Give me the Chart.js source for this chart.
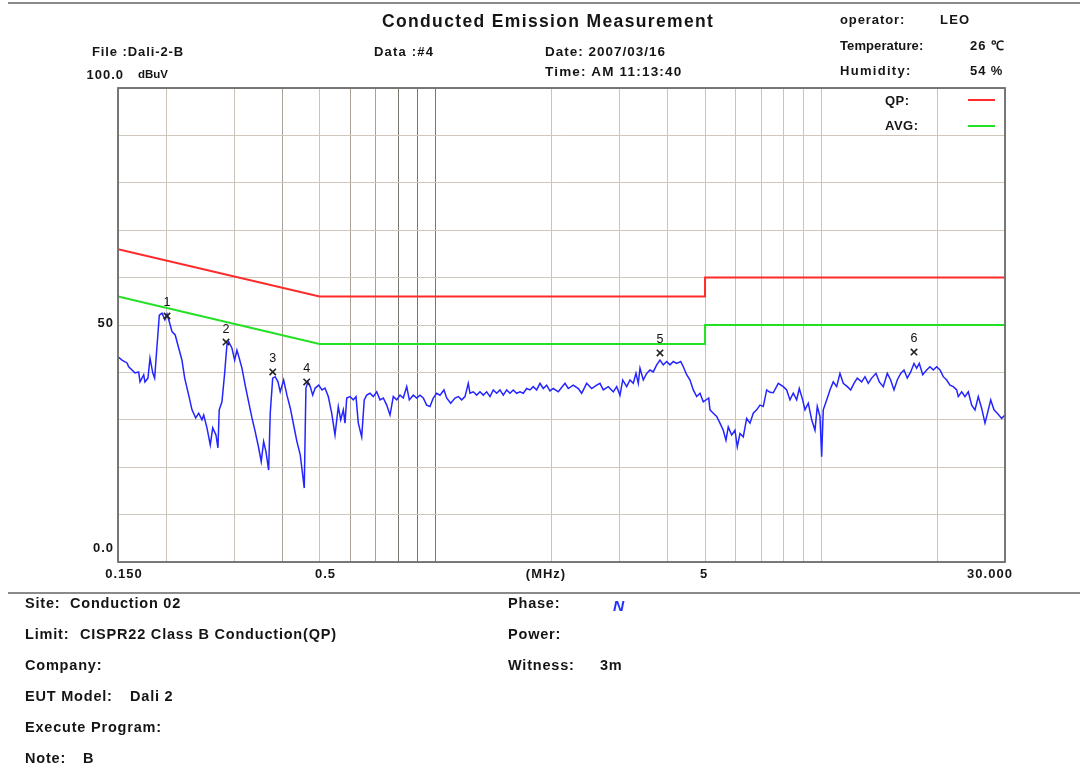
<!DOCTYPE html>
<html>
<head>
<meta charset="utf-8">
<script src="https://cdn.jsdelivr.net/npm/chart.js@4/dist/chart.umd.min.js"></script>
<style>
  html, body { margin: 0; padding: 0; background: #fff; }
  #page { position: relative; width: 1080px; height: 769px; overflow: hidden; background: #fff; }
  #plot { position: absolute; left: 0; top: 0; }
  .t { position: absolute; font-family: 'Liberation Sans', Arial, sans-serif; font-weight: bold;
       font-size: 13px; line-height: 1; white-space: pre; color: #151515; letter-spacing: 0.9px; }
  .f { font-size: 14.5px; letter-spacing: 0.8px; }
  .rule { position: absolute; left: 8px; right: 0; height: 2px; background: #8a8a8a; }
  .sw { position: absolute; height: 2px; width: 27px; }
</style>
</head>
<body>
<div id="page">
  <canvas id="plot" width="1080" height="769"></canvas>

  <div class="rule" style="top:2px"></div>
  <div class="rule" style="top:592px"></div>

  <div class="t" style="left:382px; top:13px; font-size:17.5px; letter-spacing:1.35px;">Conducted Emission Measurement</div>
  <div class="t" style="left:840px; top:13px;">operator:</div>
  <div class="t" style="left:940px; top:13px; letter-spacing:1.2px;">LEO</div>
  <div class="t" style="left:840px; top:39px; letter-spacing:0.1px;">Temperature:</div>
  <div class="t" style="left:970px; top:39px;">26 ℃</div>
  <div class="t" style="left:840px; top:64px; letter-spacing:1.3px;">Humidity:</div>
  <div class="t" style="left:970px; top:64px;">54 %</div>
  <div class="t" style="left:92px; top:45px;">File :Dali-2-B</div>
  <div class="t" style="left:374px; top:45px; letter-spacing:1.2px;">Data :#4</div>
  <div class="t" style="left:545px; top:45px; font-size:13.5px; letter-spacing:1px;">Date: 2007/03/16</div>
  <div class="t" style="left:545px; top:65px; font-size:13.5px; letter-spacing:1.2px;">Time: AM 11:13:40</div>

  <div class="t" style="left:885px; top:94px; letter-spacing:0.5px;">QP:</div>
  <div class="sw" style="left:968px; top:99px; background:#ff2a2a;"></div>
  <div class="t" style="left:885px; top:119px; letter-spacing:0.5px;">AVG:</div>
  <div class="sw" style="left:968px; top:125px; background:#22e022;"></div>

  <div class="t f" style="left:25px; top:596px;">Site:</div>
  <div class="t f" style="left:70px; top:596px;">Conduction 02</div>
  <div class="t f" style="left:25px; top:627px;">Limit:</div>
  <div class="t f" style="left:80px; top:627px;">CISPR22 Class B Conduction(QP)</div>
  <div class="t f" style="left:25px; top:658px;">Company:</div>
  <div class="t f" style="left:25px; top:689px;">EUT Model:</div>
  <div class="t f" style="left:130px; top:689px;">Dali 2</div>
  <div class="t f" style="left:25px; top:720px;">Execute Program:</div>
  <div class="t f" style="left:25px; top:751px;">Note:</div>
  <div class="t f" style="left:83px; top:751px;">B</div>
  <div class="t f" style="left:508px; top:596px;">Phase:</div>
  <div class="t f" style="left:613px; top:598px; font-size:15.5px; color:#1f2fff; font-style:italic;">N</div>
  <div class="t f" style="left:508px; top:627px;">Power:</div>
  <div class="t f" style="left:508px; top:658px;">Witness:</div>
  <div class="t f" style="left:600px; top:658px;">3m</div>
</div>

<script>
// Measured spectrum (peak detector), frequency in MHz and level in dBuV
const freqMHz = [
  0.150, 0.1536, 0.1583, 0.1599, 0.1631, 0.1660, 0.1697, 0.1711, 0.1749, 0.1762,
  0.1794, 0.1816, 0.1846, 0.1867, 0.1893, 0.1920, 0.1951, 0.1985, 0.2010, 0.2038,
  0.2071, 0.2111, 0.2156, 0.2198, 0.2234, 0.2288, 0.2334, 0.2386, 0.2429, 0.2477,
  0.2503, 0.2552, 0.2603, 0.2641, 0.2693, 0.2725, 0.2746, 0.2791, 0.2837, 0.2875,
  0.2905, 0.2963, 0.3011, 0.3052, 0.3095, 0.3145, 0.3206, 0.3273, 0.3339, 0.3404,
  0.3475, 0.3529, 0.3580, 0.3630, 0.3689, 0.3724, 0.3779, 0.3836, 0.3900, 0.3953,
  0.4034, 0.4115, 0.4197, 0.4283, 0.4368, 0.4455, 0.4520, 0.4563, 0.4609, 0.4665,
  0.4729, 0.4799, 0.4871, 0.4975, 0.5073, 0.5165, 0.5268, 0.5376, 0.5483, 0.5592,
  0.5673, 0.5762, 0.5821, 0.5880, 0.5997, 0.6116, 0.6216, 0.6302, 0.6431, 0.6530,
  0.6626, 0.6758, 0.6892, 0.7034, 0.7174, 0.7317, 0.7467, 0.7616, 0.7767, 0.7927,
  0.8085, 0.8245, 0.8415, 0.8547, 0.8753, 0.8933, 0.9109, 0.9290, 0.9481, 0.9670,
  0.9862, 1.0064, 1.0265, 1.0513, 1.0684, 1.0943, 1.1227, 1.1451, 1.1685, 1.1919,
  1.2156, 1.2280, 1.2524, 1.2781, 1.3036, 1.3295, 1.3568, 1.3839, 1.4113, 1.4403,
  1.4691, 1.4982, 1.5290, 1.5595, 1.5904, 1.6231, 1.6553, 1.6881, 1.7228, 1.7572,
  1.7920, 1.8288, 1.8654, 1.9024, 1.9414, 1.9801, 2.0194, 2.0808, 2.1658, 2.2090,
  2.2758, 2.3449, 2.3929, 2.4655, 2.5402, 2.6172, 2.6695, 2.7225, 2.8052, 2.8901,
  2.9494, 3.0084, 3.0583, 3.1311, 3.1936, 3.2570, 3.3101, 3.3560, 3.3903, 3.4575,
  3.5286, 3.5989, 3.6704, 3.7457, 3.8205, 3.8963, 3.9763, 4.0557, 4.1361, 4.2211,
  4.3235, 4.3908, 4.4809, 4.5704, 4.6611, 4.7568, 4.8517, 4.9480, 5.1106, 5.1504,
  5.2526, 5.3605, 5.4665, 5.5750, 5.6659, 5.7444, 5.8620, 5.9789, 6.0615, 6.1603,
  6.2825, 6.4115, 6.5395, 6.6692, 6.8062, 6.9421, 7.0798, 7.2252, 7.3694, 7.5157,
  7.7440, 7.9782, 8.1421, 8.3046, 8.4694, 8.6434, 8.7790, 8.9594, 9.0830, 9.2641,
  9.4536, 9.6422, 9.7754, 9.934, 10.035, 10.131, 10.339, 10.545, 10.754, 10.975,
  11.195, 11.417, 11.696, 11.934, 12.171, 12.414, 12.744, 12.998, 13.257, 13.528,
  13.880, 14.158, 14.499, 14.850, 15.155, 15.456, 15.763, 16.088, 16.407, 16.734,
  17.079, 17.418, 17.701, 17.979, 18.348, 18.791, 19.166, 19.546, 19.947, 20.346,
  20.749, 21.176, 21.598, 22.026, 22.478, 22.696, 23.160, 23.622, 24.093, 24.586,
  25.077, 25.576, 26.099, 26.620, 27.151, 27.544, 28.091, 28.650, 29.412, 30.000
];
const levelDbuV = [
  43.3, 42.6, 42.0, 41.2, 40.5, 39.9, 40.1, 38.0, 39.5, 38.0,
  38.8, 43.0, 39.9, 38.8, 45.4, 52.1, 52.5, 51.1, 52.3, 50.7,
  48.6, 47.9, 45.1, 42.6, 38.8, 35.2, 32.1, 30.4, 31.4, 30.0,
  31.0, 28.3, 24.7, 28.3, 26.8, 24.1, 32.1, 33.8, 39.9, 45.8,
  46.5, 45.1, 42.6, 44.7, 43.0, 40.9, 37.3, 33.8, 30.4, 27.5,
  24.1, 21.2, 25.4, 23.3, 19.4, 31.4, 38.8, 39.1, 38.0, 35.9,
  38.4, 35.2, 32.5, 28.9, 25.4, 22.6, 18.4, 15.6, 36.7, 38.0,
  37.0, 35.2, 36.7, 37.3, 36.3, 36.7, 34.9, 31.4, 26.8, 32.8,
  30.0, 32.1, 29.3, 34.6, 34.9, 34.2, 34.9, 29.3, 26.4, 34.2,
  35.2, 35.6, 34.9, 35.9, 34.2, 34.6, 33.1, 31.0, 34.9, 34.2,
  35.2, 34.6, 37.0, 34.2, 35.2, 34.6, 35.2, 34.6, 33.1, 32.8,
  34.6, 35.6, 35.2, 36.3, 34.6, 33.5, 34.6, 34.9, 34.2, 34.9,
  37.7, 35.6, 35.9, 35.2, 35.9, 35.2, 35.9, 34.9, 36.3, 35.6,
  36.3, 35.2, 36.3, 35.6, 36.3, 35.6, 35.9, 35.6, 36.6, 36.3,
  37.0, 36.3, 37.7, 36.6, 37.3, 36.1, 36.6, 35.9, 37.7, 36.6,
  37.3, 36.6, 35.6, 37.7, 36.6, 37.3, 37.7, 36.3, 37.0, 35.9,
  37.0, 35.2, 38.4, 37.0, 38.4, 37.7, 39.8, 37.7, 40.9, 38.4,
  39.8, 40.5, 40.1, 41.6, 42.6, 41.6, 42.3, 41.6, 42.3, 41.9,
  42.3, 41.2, 39.5, 38.4, 36.3, 34.9, 35.6, 33.8, 34.6, 32.1,
  31.4, 30.7, 29.3, 27.8, 25.7, 28.5, 26.8, 27.8, 24.3, 27.1,
  26.4, 30.3, 29.3, 31.4, 32.1, 33.1, 32.8, 36.3, 35.8, 35.7,
  37.7, 37.0, 36.3, 34.2, 35.6, 34.2, 36.6, 34.2, 32.1, 33.5,
  30.0, 27.8, 32.8, 30.7, 22.2, 32.1, 34.2, 36.3, 38.0, 37.0,
  39.8, 37.7, 37.0, 36.3, 37.7, 38.8, 38.0, 39.1, 37.7, 38.8,
  39.8, 38.0, 37.0, 39.8, 38.4, 36.3, 38.4, 39.8, 40.5, 38.8,
  40.1, 41.9, 40.9, 41.9, 39.5, 40.5, 41.2, 40.5, 41.2, 40.5,
  39.1, 38.4, 37.3, 37.0, 36.3, 34.9, 35.9, 34.9, 35.9, 33.1,
  32.1, 34.9, 32.4, 29.3, 32.1, 34.2, 32.1, 31.4, 30.3, 31.0
];

// CISPR 22 Class B conducted limits
const limitFreqMHz = [0.15, 0.5, 5, 5, 30];
const qpLimitDbuV  = [66, 56, 56, 60, 60];
const avgLimitDbuV = [56, 46, 46, 50, 50];

// Peak markers
const markerNames    = ['1', '2', '3', '4', '5', '6'];
const markerFreqMHz  = [0.201, 0.286, 0.378, 0.463, 3.82, 17.42];
const markerLevel    = [51.9, 46.4, 40.1, 38.0, 44.1, 44.3];

// Frequency grid and labelled axis values
const gridFreqMHz = [0.15, 0.2, 0.3, 0.4, 0.5, 0.6, 0.7, 0.8, 0.9, 1,
                     2, 3, 4, 5, 6, 7, 8, 9, 10, 20, 30];
const darkGridFreqMHz = [0.8, 0.9, 1];
const midGridFreqMHz = [0.4, 0.6, 0.7];
const xTickValues = [0.15, 0.5, 5, 30];
const xTickLabels = ['0.150', '0.5', '5', '30.000'];
const yTickValues = [100, 50, 0];
const yTickLabels = ['100.0', '50', '0.0'];
const xUnit = '(MHz)';
const yUnit = 'dBuV';

const pts = (xs, ys) => xs.map((x, i) => ({ x, y: ys[i] }));

const frameAndLabels = {
  id: 'frameAndLabels',
  afterDraw(chart) {
    const { ctx, chartArea: a, scales: { x, y } } = chart;
    ctx.save();
    // plot frame
    ctx.strokeStyle = '#6c6c6c';
    ctx.lineWidth = 1.8;
    ctx.strokeRect(a.left, a.top, a.right - a.left, a.bottom - a.top);

    // marker numbers
    ctx.fillStyle = '#111';
    ctx.font = '12.5px "Liberation Sans", Arial, sans-serif';
    ctx.textAlign = 'center';
    ctx.textBaseline = 'middle';
    markerNames.forEach((n, i) => {
      ctx.fillText(n, x.getPixelForValue(markerFreqMHz[i]), y.getPixelForValue(markerLevel[i]) - 13);
    });

    // axis labels
    ctx.font = 'bold 13px "Liberation Sans", Arial, sans-serif';
    ctx.letterSpacing = '1px';
    ctx.fillStyle = '#151515';
    const xShift = [6, 6, -1, -15];
    xTickValues.forEach((v, i) => {
      ctx.fillText(xTickLabels[i], x.getPixelForValue(v) + xShift[i], a.bottom + 12);
    });
    ctx.fillText(xUnit, 546, a.bottom + 12);

    ctx.textAlign = 'right';
    const yShift = [-13, -2, -14];
    yTickValues.forEach((v, i) => {
      const py = y.getPixelForValue(v) + yShift[i];
      if (i === 0) {
        ctx.fillText(yTickLabels[i], a.left + 6, py);
        ctx.textAlign = 'left';
        ctx.letterSpacing = '0px';
        ctx.font = 'bold 11.5px "Liberation Sans", Arial, sans-serif';
        ctx.fillText(yUnit, a.left + 20, py);
        ctx.font = 'bold 13px "Liberation Sans", Arial, sans-serif';
        ctx.letterSpacing = '1px';
        ctx.textAlign = 'right';
      } else {
        ctx.fillText(yTickLabels[i], a.left - 4, py);
      }
    });
    ctx.restore();
  }
};

new Chart(document.getElementById('plot'), {
  type: 'line',
  data: {
    datasets: [
      {
        label: 'QP',
        data: pts(limitFreqMHz, qpLimitDbuV),
        borderColor: '#ff2a2a', borderWidth: 2, pointRadius: 0, order: 3
      },
      {
        label: 'AVG',
        data: pts(limitFreqMHz, avgLimitDbuV),
        borderColor: '#22e022', borderWidth: 2, pointRadius: 0, order: 2
      },
      {
        label: 'Level',
        data: pts(freqMHz, levelDbuV),
        borderColor: '#2424ff', borderWidth: 1.5, pointRadius: 0, order: 1
      },
      {
        label: 'Markers',
        data: pts(markerFreqMHz, markerLevel),
        showLine: false, pointStyle: 'crossRot', pointRadius: 4.5,
        borderColor: '#222', backgroundColor: '#222', pointBorderWidth: 1.6, order: 0
      }
    ]
  },
  options: {
    responsive: false,
    animation: false,
    devicePixelRatio: 1,
    parsing: false,
    layout: { padding: { left: 118, top: 88, right: 75, bottom: 207 } },
    plugins: { legend: { display: false }, tooltip: { enabled: false } },
    scales: {
      x: {
        type: 'logarithmic', min: 0.15, max: 30,
        afterBuildTicks: s => { s.ticks = gridFreqMHz.map(v => ({ value: v })); },
        afterFit: s => { s.height = 0; },
        ticks: { display: false },
        border: { display: false },
        grid: {
          drawTicks: false, lineWidth: 1,
          color: c => {
            const v = c.tick && c.tick.value;
            if (darkGridFreqMHz.includes(v)) return '#7a756f';
            if (midGridFreqMHz.includes(v)) return '#aaa298';
            return '#cbc2b8';
          }
        }
      },
      y: {
        type: 'linear', min: 0, max: 100,
        ticks: { display: false, stepSize: 10 },
        afterFit: s => { s.width = 0; },
        border: { display: false },
        grid: { drawTicks: false, lineWidth: 1, color: '#cfc6bc' }
      }
    }
  },
  plugins: [frameAndLabels]
});
</script>
</body>
</html>
